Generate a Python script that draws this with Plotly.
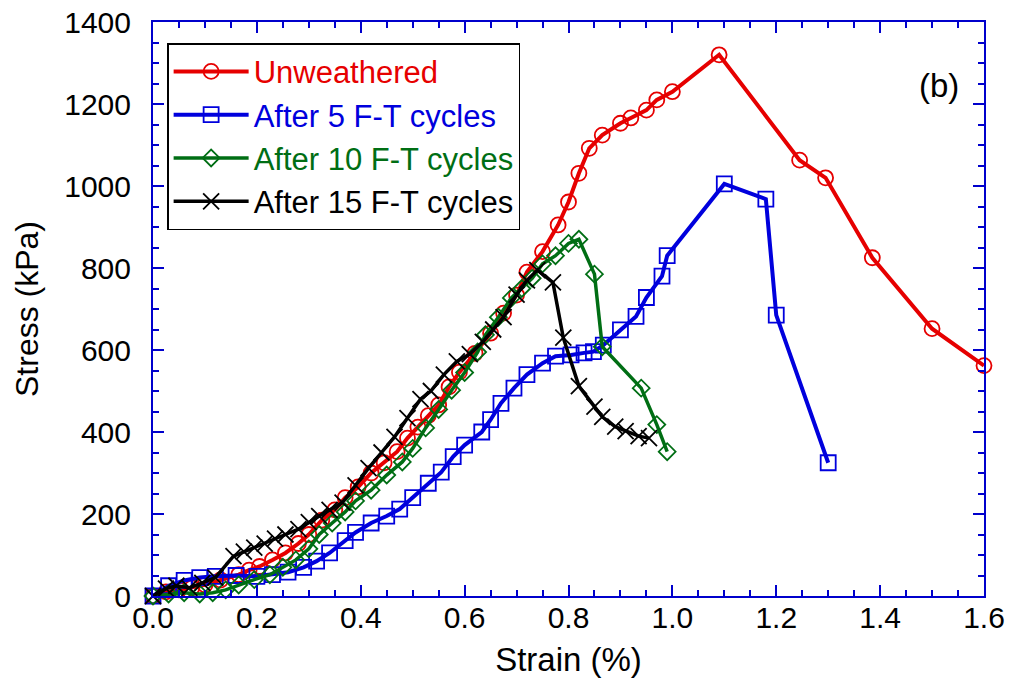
import plotly.graph_objects as go

# ---- data ----
strain_unw = [0, 0.025, 0.05, 0.075, 0.10, 0.13, 0.165, 0.185, 0.205, 0.23, 0.255, 0.28, 0.30,
              0.325, 0.35, 0.37, 0.395, 0.42, 0.445, 0.47, 0.49, 0.51, 0.53, 0.55, 0.57, 0.59,
              0.62, 0.65, 0.675, 0.70, 0.72, 0.75, 0.78, 0.80, 0.82, 0.84, 0.865, 0.90, 0.92,
              0.95, 0.97, 1.00, 1.09, 1.245, 1.295, 1.385, 1.50, 1.60]
stress_unw = [0, 10, 15, 20, 27, 39, 52, 63, 72, 88, 105, 128, 150,
              185, 210, 240, 266, 300, 325, 352, 385, 412, 440, 466, 510, 546,
              592, 641, 690, 734, 790, 840, 905, 961, 1031, 1092, 1124, 1153, 1166,
              1185, 1210, 1230, 1320, 1063, 1020, 825, 652, 562]

strain_5 = [0, 0.03, 0.06, 0.09, 0.12, 0.16, 0.20, 0.23, 0.26, 0.29, 0.315, 0.34, 0.37, 0.39,
            0.42, 0.45, 0.475, 0.50, 0.53, 0.555, 0.578, 0.60, 0.633, 0.65, 0.67, 0.695, 0.72,
            0.75, 0.775, 0.805, 0.83, 0.848, 0.867, 0.90, 0.93, 0.95, 0.98, 0.99, 1.10, 1.18,
            1.20, 1.30]
stress_5 = [0, 25, 38, 45, 48, 50, 48, 52, 58, 70, 85, 105, 135, 155,
            178, 195, 212, 240, 275, 302, 340, 368, 400, 430, 470, 507, 540,
            568, 585, 588, 593, 596, 612, 649, 682, 728, 780, 830, 1005, 968,
            685, 325]

strain_10 = [0, 0.03, 0.06, 0.09, 0.115, 0.14, 0.165, 0.195, 0.225, 0.25, 0.275, 0.30, 0.32,
             0.345, 0.37, 0.39, 0.42, 0.45, 0.48, 0.50, 0.525, 0.55, 0.575, 0.60, 0.625, 0.64,
             0.665, 0.69, 0.71, 0.73, 0.75, 0.775, 0.80, 0.82, 0.85, 0.865, 0.94, 0.97, 0.99]
stress_10 = [0, 5, 8, 5, 8, 15, 27, 40, 52, 70, 88, 115, 150,
             178, 205, 232, 258, 295, 327, 360, 410, 455, 502, 545, 595, 637,
             680, 727, 750, 775, 810, 830, 860, 870, 785, 608, 507, 418, 352]

strain_15 = [0, 0.025, 0.045, 0.07, 0.095, 0.12, 0.155, 0.175, 0.195, 0.215, 0.235, 0.255, 0.28,
             0.30, 0.32, 0.34, 0.365, 0.39, 0.415, 0.44, 0.465, 0.49, 0.515, 0.535, 0.56,
             0.585, 0.61, 0.635, 0.655, 0.675, 0.70, 0.72, 0.74, 0.77, 0.79, 0.82, 0.85,
             0.865, 0.89, 0.91, 0.935, 0.955]
stress_15 = [0, 18, 25, 20, 32, 45, 97, 108, 118, 128, 140, 150, 163,
             180, 195, 210, 228, 270, 312, 350, 388, 434, 480, 500, 540,
             572, 590, 620, 650, 680, 735, 770, 795, 765, 630, 512, 462,
             437, 413, 402, 390, 385]

RED = '#e60000'
BLUE = '#0000dd'
GREEN = '#006e14'
BLACK = '#000000'

series = [
    ('Unweathered', strain_unw, stress_unw, RED, 'circle-open', 15, 4),
    ('After 5 F-T cycles', strain_5, stress_5, BLUE, 'square-open', 15, 4),
    ('After 10 F-T cycles', strain_10, stress_10, GREEN, 'diamond-open', 13, 3.5),
    ('After 15 F-T cycles', strain_15, stress_15, BLACK, 'x-thin-open', 16, 3.5),
]

fig = go.Figure()
for name, x, y, col, sym, size, lw in series:
    fig.add_trace(go.Scatter(
        x=x, y=y, mode='lines+markers',
        name=f'<span style="color:{col}">{name}</span>',
        line=dict(color=col, width=lw),
        marker=dict(symbol=sym, size=size, color=col, line=dict(color=col, width=1.8)),
        cliponaxis=False,
    ))

axis_blue = '#0000cc'
common = dict(
    showline=True, linecolor=axis_blue, linewidth=2, mirror='ticks',
    ticks='inside', tickcolor=axis_blue, tickwidth=2, ticklen=11,
    showgrid=False, zeroline=False, automargin=False,
)

fig.update_xaxes(
    **common,
    range=[0, 1.6], dtick=0.2, tickformat='.1f',
    minor=dict(ticks='inside', dtick=0.05, ticklen=6, tickcolor=axis_blue, tickwidth=2, showgrid=False),
    tickfont=dict(family='Liberation Sans, Arial', size=30, color='black'),
    ticklabelstandoff=-6,
    title=dict(text='Strain (%)',
               font=dict(family='Liberation Sans, Arial', size=33, color='black'),
               standoff=15),
)
fig.update_yaxes(
    **common,
    range=[0, 1400], dtick=200,
    minor=dict(ticks='inside', dtick=50, ticklen=6, tickcolor=axis_blue, tickwidth=2, showgrid=False),
    tickfont=dict(family='Liberation Sans, Arial', size=30, color='black'),
    ticklabelstandoff=14,
    title=dict(text='Stress (kPa)', font=dict(family='Liberation Sans, Arial', size=32, color='black'),
               standoff=16),
)

fig.add_annotation(text='(b)', xref='paper', yref='paper', x=0.972, y=0.89,
                   xanchor='right', yanchor='middle', showarrow=False,
                   font=dict(family='Liberation Sans, Arial', size=33, color='black'))

fig.update_layout(
    width=1012, height=681,
    margin=dict(l=153, r=28, t=22, b=85),
    paper_bgcolor='white', plot_bgcolor='white',
    font=dict(family='Liberation Sans, Arial', color='black'),
    legend=dict(
        x=0.017, y=0.963, xanchor='left', yanchor='top',
        bgcolor='white', bordercolor='black', borderwidth=1.5,
        font=dict(family='Liberation Sans, Arial', size=31),
        itemwidth=75, tracegroupgap=0,
    ),
)

# drop the browser's default 8px body margin so the figure fills the window
fig.write_html('out.html', config={'displayModeBar': False},
               post_script="document.body.style.margin='0px';")
